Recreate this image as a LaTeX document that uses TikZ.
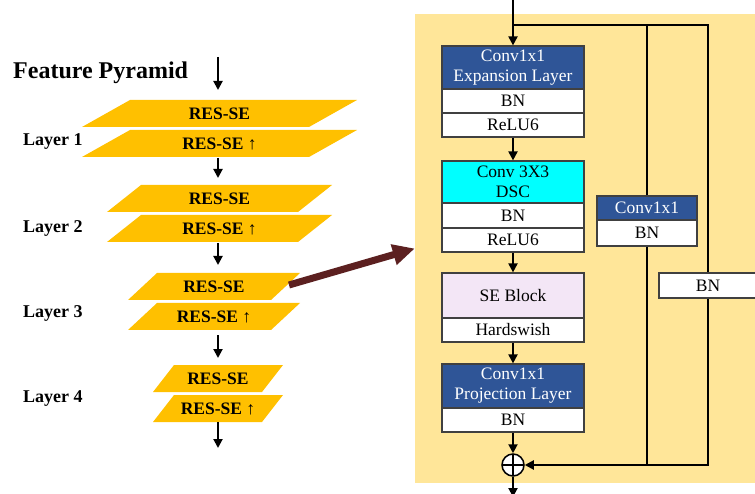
\documentclass[tikz,border=0pt]{standalone}
\usepackage{fontspec}
\setmainfont{Liberation Serif}
\usetikzlibrary{arrows.meta}

\definecolor{pyrgold}{HTML}{FFC000}
\definecolor{panelbg}{HTML}{FFE699}
\definecolor{convblue}{HTML}{2F5597}
\definecolor{dsccyan}{HTML}{00FFFF}
\definecolor{sepink}{HTML}{F3E6F6}
\definecolor{linkbrown}{HTML}{5C2020}
\definecolor{edgegray}{HTML}{404040}

\tikzset{
  arr/.style={line width=2pt, -{Triangle[length=9pt,width=9pt]}},
  wire/.style={line width=2pt},
  bigarr/.style={draw=linkbrown, line width=7pt, -{Triangle[length=22pt,width=20pt]}},
  pyr/.style={fill=pyrgold},
  restext/.style={font=\bfseries\fontsize{17.5}{20}\selectfont, inner sep=0pt, anchor=base},
  layertext/.style={font=\bfseries\fontsize{18}{20}\selectfont, inner sep=0pt, anchor=base west},
  blk/.style={draw=edgegray, line width=1.2pt, minimum width=142pt, inner sep=0pt,
    align=center, font=\fontsize{17.5}{20}\selectfont},
  convhead/.style={blk, fill=convblue, text=white},
  cell/.style={blk, fill=white, minimum height=24pt},
}

\begin{document}
\begin{tikzpicture}[x=1pt,y=-1pt]
\clip (0,0) rectangle (755,494);
\fill[white] (0,0) rectangle (755,494);

% feature pyramid
\node[font=\bfseries\fontsize{24}{28}\selectfont, inner sep=0pt, anchor=base west] (title) at (13,79) {Feature Pyramid};

\foreach \n/\ta/\xl/\xr/\s/\ly in {1/100/82/357/48/146, 2/185/107/332/34/233, 3/273/128/300/29/317, 4/365/153/283/21/402} {
  \fill[pyr] (\xl,\ta+27) -- (\xr-\s,\ta+27) -- (\xr,\ta) -- (\xl+\s,\ta) -- cycle;
  \fill[pyr] (\xl,\ta+57) -- (\xr-\s,\ta+57) -- (\xr,\ta+30) -- (\xl+\s,\ta+30) -- cycle;
  \node[restext] (res\n) at ({(\xl+\xr)/2},\ta+19.5) {RES-SE};
  \node[restext] (resup\n) at ({(\xl+\xr)/2},\ta+49.5) {RES-SE ↑};
  \node[layertext] (layer\n) at (23,\ly) {Layer \n};
  \coordinate (top\n) at (218,\ta);
  \coordinate (bot\n) at (218,\ta+57);
}
\coordinate (pyrin) at (218,57);
\coordinate (pyrout) at (218,448);

\draw[arr, shorten >=10pt] (pyrin) -- (top1);
\draw[arr, shorten <=1pt, shorten >=7pt] (bot1) -- (top2);
\draw[arr, shorten <=1pt, shorten >=8pt] (bot2) -- (top3);
\draw[arr, shorten <=5pt, shorten >=7pt] (bot3) -- (top4);
\draw[arr] (bot4) -- (pyrout);

% block detail
\node[fill=panelbg, minimum width=340pt, minimum height=469pt, inner sep=0pt] (panel) at (585,248.5) {};

\coordinate (l3edge) at (289,285);
\draw[bigarr] (l3edge) -- (panel.west);

\node[convhead, minimum height=43pt] (expconv) at (513,67.5) {Conv1x1\\Expansion Layer};
\node[cell] (expbn) at (513,101) {BN};
\node[cell] (exprelu) at (513,125) {ReLU6};
\node[blk, fill=dsccyan, minimum height=42pt] (dsc) at (513,182) {Conv 3X3\\DSC};
\node[cell, minimum height=25pt] (dscbn) at (513,215.5) {BN};
\node[cell] (dscrelu) at (513,240) {ReLU6};
\node[blk, fill=sepink, minimum height=45pt] (se) at (513,295.5) {SE Block};
\node[cell] (sehs) at (513,330) {Hardswish};
\node[convhead, minimum height=44pt] (projconv) at (513,386) {Conv1x1\\Projection Layer};
\node[cell] (projbn) at (513,420) {BN};
\node[circle, draw, line width=1.5pt, fill=white, minimum size=22pt, inner sep=0pt,
  path picture={\draw[line width=1.5pt] (path picture bounding box.north) -- (path picture bounding box.south)
    (path picture bounding box.west) -- (path picture bounding box.east);}] (sum) at (513,465) {};

\node[convhead, minimum width=100pt, minimum height=24pt] (scconv) at (647,208) {Conv1x1};
\node[cell, minimum width=100pt, minimum height=26pt] (scbn) at (647,233) {BN};
\node[cell, minimum width=98pt, minimum height=25pt] (idbn) at (708,285.5) {BN};

\coordinate (in) at (513,-2);
\coordinate (split) at (513,25);
\coordinate (scfork) at (647,25);
\coordinate (idfork) at (708,25);
\coordinate (scjoin) at (647,465);
\coordinate (idjoin) at (708,465);
\coordinate (out) at (513,497);

\draw[arr] (in) -- (expconv);
\draw[wire] (split) -- (idfork) -- (idbn);
\draw[wire] (scfork) -- (scconv);
\draw[wire] (scbn) -- (scjoin);
\draw[arr] (idbn) -- (idjoin) -- (sum);
\draw[arr] (exprelu) -- (dsc);
\draw[arr] (dscrelu) -- (se);
\draw[arr] (sehs) -- (projconv);
\draw[arr] (projbn) -- (sum);
\draw[arr] (sum) -- (out);
\end{tikzpicture}
\end{document}
